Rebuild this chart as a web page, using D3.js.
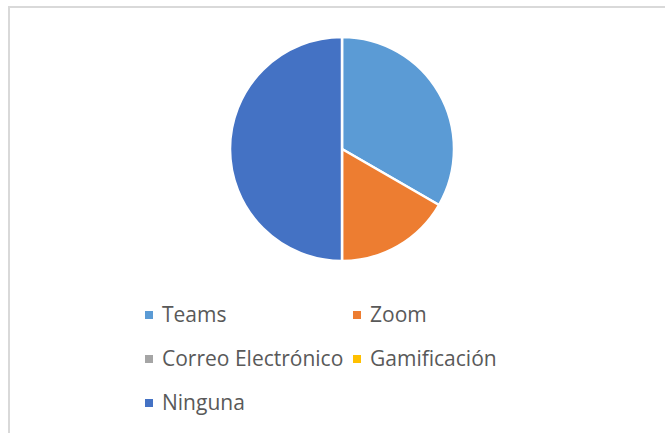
<!DOCTYPE html>
<html>
<head>
<meta charset="utf-8">
<script src="https://cdn.jsdelivr.net/npm/d3@7"></script>
<style>
  body { margin: 0; background: #fff; }
  svg { display: block; }
  .legendText { font-family: "Open Sans", "Liberation Sans", sans-serif; font-size: 21px; fill: #595959; }
</style>
</head>
<body>
<div id="chart"></div>
<script>
// chart data
var categories = ["Teams", "Zoom", "Correo Electrónico", "Gamificación", "Ninguna"];
var values = [2, 1, 0, 0, 3];
var colors = ["#5b9bd5", "#ed7d31", "#a5a5a5", "#ffc000", "#4472c4"];

var width = 665, height = 433;

var svg = d3.select("#chart").append("svg")
    .attr("width", width)
    .attr("height", height);

// chart area border (runs off the right and bottom edges)
svg.append("rect")
    .attr("x", 9)
    .attr("y", 7)
    .attr("width", width)
    .attr("height", height)
    .attr("fill", "#fff")
    .attr("stroke", "#d9d9d9")
    .attr("stroke-width", 2);

var data = categories.map(function(c, i){
    return {name: c, value: values[i], color: colors[i]};
});

var pie = d3.pie()
    .sort(null)
    .value(function(d){ return d.value; });

var radius = 112;
var arc = d3.arc()
    .innerRadius(0)
    .outerRadius(radius);

var g = svg.append("g")
    .attr("transform", "translate(342,149)");

g.selectAll("path")
    .data(pie(data).filter(function(d){ return d.value > 0; }))
    .enter()
    .append("path")
    .attr("d", arc)
    .attr("fill", function(d){ return d.data.color; })
    .attr("stroke", "#fff")
    .attr("stroke-width", 2.5)
    .attr("stroke-linejoin", "round");

// legend, two columns
var colX = [145, 353];
var rowY = [322, 366, 410];

var legend = svg.selectAll(".legendItem")
    .data(data)
    .enter()
    .append("g")
    .attr("class", "legendItem")
    .attr("transform", function(d, i){
        return "translate(" + colX[i % 2] + "," + rowY[Math.floor(i / 2)] + ")";
    });

legend.append("rect")
    .attr("x", 0)
    .attr("y", -11)
    .attr("width", 8)
    .attr("height", 8)
    .attr("fill", function(d){ return d.color; });

legend.append("text")
    .attr("class", "legendText")
    .attr("x", 17)
    .attr("y", 0)
    .text(function(d){ return d.name; });
</script>
</body>
</html>
